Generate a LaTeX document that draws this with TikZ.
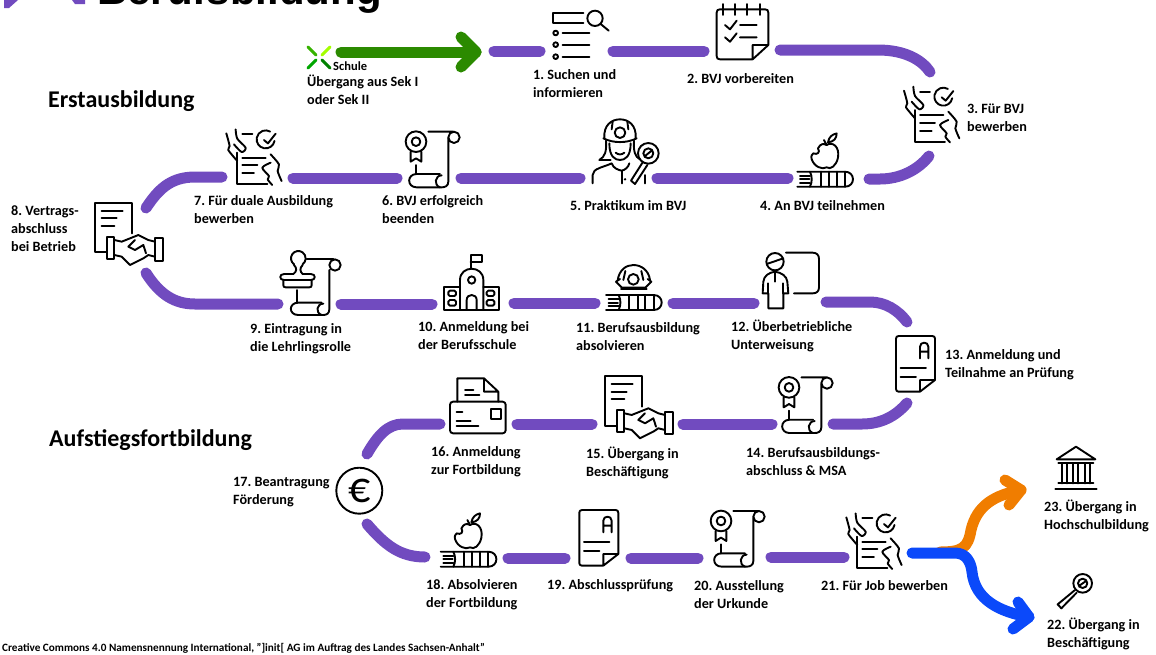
\documentclass[tikz,border=0pt]{standalone}
\usepackage{fontspec}
\setmainfont{Carlito}
\newfontfamily\titlefont{Liberation Sans}
\definecolor{wegcol}{HTML}{714BBF}
\definecolor{gruencol}{HTML}{2B8A00}
\definecolor{orangecol}{HTML}{F07D00}
\definecolor{blaucol}{HTML}{0B49FA}
\tikzset{
  ico/.style={scale=1/3,line width=1.9pt,line cap=round,line join=round},
  pics/icoapply/.style={code={\begin{scope}[ico]
    \draw (120,65) -- (150,65);
    \draw (190,80) ++(10:27) arc (10:300:27);
    \draw (185,82) -- (197,92) -- (220,63);
    \draw (105,120) -- (105,215) -- (195,215);
    \draw (120,135) -- (190,135) (120,158) -- (165,158) (120,182) -- (155,182);
    \draw plot[smooth] coordinates {(72,62) (82,100) (78,112) (105,145)};
    \draw plot[smooth] coordinates {(100,50) (105,78) (130,105) (118,118) (95,95)};
    \draw plot[smooth] coordinates {(205,125) (230,155) (226,175) (238,205)};
    \draw plot[smooth] coordinates {(205,150) (180,165) (200,190) (196,200) (210,217)};
  \end{scope}}},
  pics/icoscroll/.style={code={\begin{scope}[ico]
    \draw (48,95) circle (31) (48,95) circle (13);
    \draw (32,125) -- (32,155) -- (48,145) -- (64,155) -- (64,125);
    \draw (85,65) -- (160,65) (162,82) circle (17);
    \draw (145,85) -- (145,215) .. controls (145,228) and (135,232) .. (125,232) -- (50,232)
      .. controls (20,232) and (20,192) .. (50,192) -- (120,192);
    \draw (48,165) -- (48,192);
    \draw (125,196) .. controls (105,196) and (100,225) .. (120,232);
  \end{scope}}},
  pics/icobook/.style={code={\begin{scope}[ico]
    \draw (0,0) -- (143,0) .. controls (175,0) and (175,45) .. (143,45) -- (0,45);
    \draw (8,12) -- (38,12) (8,23) -- (36,23) (8,34) -- (38,34);
    \draw (38,0) .. controls (45,15) and (45,30) .. (38,45);
    \foreach \x in {70,95,118,143} \draw (\x,0) -- (\x,45);
  \end{scope}}},
  pics/icoapple/.style={code={\begin{scope}[ico]
    \draw (88,-80) .. controls (105,-92) and (128,-75) .. (122,-42)
      .. controls (117,-18) and (100,-5) .. (88,-13) .. controls (75,-5) and (50,-15) .. (43,-38)
      .. controls (40,-48) and (45,-52) .. (48,-55) .. controls (60,-50) and (70,-58) .. (62,-70)
      .. controls (70,-85) and (78,-85) .. (88,-80);
    \draw (88,-80) -- (80,-95);
    \draw (92,-88) .. controls (95,-105) and (105,-112) .. (118,-115)
      .. controls (118,-100) and (110,-90) .. (92,-88) -- cycle;
  \end{scope}}},
  pics/icohelmet/.style={code={\begin{scope}[ico]
    \draw (35,-45) .. controls (40,-75) and (60,-90) .. (82,-90) .. controls (105,-90) and (128,-75) .. (132,-45);
    \draw (30,-40) -- (48,-22) -- (118,-22) -- (136,-40) -- (125,-48);
    \draw (30,-40) -- (42,-48);
    \draw (82,-47) circle (16);
    \draw (58,-72) -- (52,-45) (106,-72) -- (112,-45);
    \draw (45,-17) -- (122,-17);
  \end{scope}}},
  pics/icodeal/.style={code={\begin{scope}[ico]
    \draw (78,187) -- (45,187) -- (45,38) -- (155,38) -- (155,130);
    \draw (65,62) -- (128,62) (65,85) -- (110,85) (65,107) -- (103,107);
    \draw (80,140) rectangle (103,207) (225,145) rectangle (248,212);
    \draw (103,150) -- (125,155) -- (175,135) -- (205,150) -- (225,155);
    \draw (103,195) -- (125,200) -- (150,225) -- (170,215) -- (190,205) -- (205,195) -- (225,200);
    \draw (165,150) -- (145,170) -- (165,180) -- (190,165) -- (198,190);
  \end{scope}}},
  pics/icoexam/.style={code={\begin{scope}[ico]
    \draw (72,167) -- (8,167) .. controls (3,167) and (0,164) .. (0,159) -- (0,8)
      .. controls (0,3) and (3,0) .. (8,0) -- (109,0) .. controls (114,0) and (117,3) .. (117,8)
      -- (117,132) -- (72,167) -- (72,132) -- (117,132);
    \draw (72,67) -- (72,32) .. controls (72,16) and (97,16) .. (97,32) -- (97,67) (72,47) -- (97,47);
    \draw (14,95) -- (90,95) (14,124) -- (60,124);
  \end{scope}}},
}
\begin{document}
\frenchspacing
\begin{tikzpicture}
  [x=1pt,y=-1pt,
   lbl/.style={anchor=west,align=left,inner sep=0pt,yshift=-1pt,font=\fontsize{14.2}{18}\selectfont\bfseries},
   kopf/.style={anchor=west,inner sep=0pt,yshift=-1pt,font=\fontsize{24}{26}\selectfont\bfseries},
   weg/.style={line width=11pt,line cap=round,color=wegcol},
   pfeil/.style={line width=11pt,line cap=round,line join=round},
   logo/.style={line width=3pt,line cap=round},
   icoplain/.style={line width=1.9pt,line cap=round,line join=round,scale=1/3}]
  \useasboundingbox (0,0) rectangle (1156,654);

  % titel
  \fill[wegcol] (4,0) -- (18,0) -- (9,8) -- (4,8) -- cycle;
  \fill[wegcol] (72,0) -- (85,0) -- (85,4) -- (75,4) -- cycle;
  \node[anchor=base west,inner sep=0pt,font=\fontsize{42}{42}\selectfont\titlefont\bfseries] (titel) at (97,4) {Berufsbildung};
  \node[kopf] (erst) at (48,100) {Erstausbildung};
  \node[kopf] (aufst) at (49,439) {Aufstiegsfortbildung};

  % wege
  \foreach \n/\x/\y in {s0/341/52,e0/476/52,hu/461/37,hd/461/67,
    a1/494/51,b1/540/51,a2/613/51,b2/704/51,a3/780/50,b3/930/72,
    a4/929/156,b4/869/179,a5/657/178,b5/788/178,a6/461/178,b6/580/178,
    a7/293/178,b7/397/178,a8/146/208,b8/222/177,a9/146/273,b9/278/304,
    a10/341/304,b10/432/304,a11/514/303,b11/595/303,a12/673/303,b12/754/303,
    a13/826/302,b13/907/322,a14/833/424,b14/907/403,a15/683/424,b15/772/424,
    a16/517/424,b16/592/424,a17/367/454,b17/440/424,a18/367/524,b18/425/557,
    a19/508/558,b19/565/558,a20/631/558,b20/698/558,a21/771/557,b21/844/557,
    s1/912/553,e1/1029/617,h1u/1018/602,h1d/1013/629,
    s2/940/552,e2/1021/490,h2u/1005/480,h2d/1009/505}
    \coordinate (\n) at (\x,\y);

  \foreach \from/\to in {a1/b1,a2/b2,a5/b5,a6/b6,a7/b7,a10/b10,a11/b11,a12/b12,a15/b15,a16/b16,a19/b19,a20/b20,a21/b21}
    \draw[weg] (\from) -- (\to);
  \draw[weg] (a3) -- (878,50) .. controls (905,50) and (922,60) .. (b3);
  \draw[weg] (a4) .. controls (918,170) and (900,179) .. (880,179) -- (b4);
  \draw[weg] (a8) .. controls (158,190) and (170,177) .. (195,177) -- (b8);
  \draw[weg] (a9) .. controls (160,295) and (175,304) .. (195,304) -- (b9);
  \draw[weg] (a13) -- (870,302) .. controls (885,302) and (898,310) .. (b13);
  \draw[weg] (a14) -- (862,424) .. controls (880,424) and (895,417) .. (b14);
  \draw[weg] (a17) .. controls (378,435) and (388,424) .. (403,424) -- (b17);
  \draw[weg] (a18) .. controls (385,545) and (400,557) .. (b18);

  \draw[pfeil,color=gruencol] (s0) -- (e0);
  \draw[pfeil,color=gruencol] (hu) -- (e0) -- (hd);
  \draw[pfeil,color=orangecol] (s2) .. controls (962,552) and (968,548) .. (971,530) .. controls (977,505) and (995,495) .. (e2);
  \draw[pfeil,color=orangecol] (h2u) -- (e2) -- (h2d);
  \draw[pfeil,color=blaucol] (s1) -- (955,553) .. controls (966,553) and (971,562) .. (972,572) .. controls (975,600) and (1000,612) .. (e1);
  \draw[pfeil,color=blaucol] (h1u) -- (e1) -- (h1d);

  % logo
  \draw[logo,color=green!60!lime!70!black] (308,47) -- (316,55);
  \draw[logo,color=lime!85!green] (330,47) -- (322,55);
  \draw[logo,color=green!65!black] (308,68) -- (316,60);
  \draw[logo,color=green!50!black] (330,68) -- (322,60);

  % icons
  \pic (i3) at (880,70) {icoapply};
  \pic (i7) at (202.3,112.7) {icoapply};
  \pic (i21) at (822.3,496.7) {icoapply};
  \pic (i6) at (400,110) {icoscroll};
  \pic (i14) at (773,355.7) {icoscroll};
  \pic (i20) at (705,489.3) {icoscroll};
  \pic (i4) at (797.3,171.7) {icobook};
  \pic (i4a) at (797.3,171.7) {icoapple};
  \pic (i11) at (606,295) {icobook};
  \pic (i11a) at (606,295) {icohelmet};
  \pic (i18) at (440.7,551.7) {icobook};
  \pic (i18a) at (440.7,551.7) {icoapple};
  \pic (i8) at (80,190) {icodeal};
  \pic (i15) at (590,363.3) {icodeal};
  \pic (i13) at (896,336) {icoexam};
  \pic (i19) at (579.3,510) {icoexam};

  % 1 suchen
  \begin{scope}[shift={(520,0)},icoplain]
    \draw (190,40) -- (100,40) -- (100,70) -- (190,70);
    \draw (225,55) circle (23) (242,72) -- (266,92);
    \foreach \y in {99,134,170} {
      \draw (107,\y) circle (7);
      \draw (128,\y) -- (208,\y);
    }
  \end{scope}
  % 2 vorbereiten
  \begin{scope}[shift={(520,0)},icoplain]
    \draw (698,178) -- (600,178) .. controls (593,178) and (590,175) .. (590,168) -- (590,38)
      .. controls (590,31) and (593,28) .. (600,28) -- (735,28) .. controls (742,28) and (745,31) .. (745,38)
      -- (745,135) -- (698,178) -- (698,135) -- (745,135);
    \foreach \x in {610,645,682,720} \draw (\x,12) -- (\x,45);
    \draw (615,75) -- (630,88) -- (650,62) (660,75) -- (710,75);
    \draw (615,112) -- (630,125) -- (650,100) (660,112) -- (710,112);
  \end{scope}
  % 5 praktikum
  \begin{scope}[shift={(570,110)},icoplain]
    \draw (103,85) .. controls (100,45) and (125,28) .. (150,28) .. controls (175,28) and (200,45) .. (197,85);
    \draw (100,85) .. controls (130,100) and (170,100) .. (200,85);
    \draw (150,68) circle (16) (128,35) -- (125,58) (172,35) -- (175,58);
    \draw (118,100) .. controls (118,140) and (135,150) .. (150,150) .. controls (165,150) and (182,140) .. (182,100);
    \draw (137,128) .. controls (145,135) and (155,135) .. (163,128);
    \draw (108,92) .. controls (110,125) and (105,140) .. (88,150) -- (122,150);
    \draw (192,92) .. controls (190,125) and (195,140) .. (210,148);
    \draw (68,220) -- (68,195) .. controls (68,175) and (100,172) .. (125,160) .. controls (130,175) and (145,180) .. (155,182)
      .. controls (165,180) and (175,172) .. (178,160);
    \draw (155,182) -- (155,220);
    \fill (165,208) circle (4);
    \draw (235,130) circle (31) (235,130) circle (15) (225,138) -- (245,122);
    \draw (218,157) -- (183,212) -- (195,222) -- (232,165);
    \draw (225,195) -- (225,220);
  \end{scope}
  % 9 eintragung
  \begin{scope}[shift={(80,190)},icoplain]
    \draw (655,205) ++(125:22) arc (125:415:22);
    \draw (642,225) .. controls (652,235) and (650,245) .. (640,252) -- (612,252)
      .. controls (597,252) and (597,270) .. (612,270) -- (693,270) .. controls (708,270) and (708,252) .. (693,252) -- (668,252)
      .. controls (660,245) and (658,235) .. (668,225);
    \draw (610,270) -- (610,285) .. controls (610,290) and (612,292) .. (617,292) -- (688,292)
      .. controls (693,292) and (695,290) .. (695,285) -- (695,270);
    \draw (680,207) -- (760,207) (765,225) circle (17);
    \draw (748,240) -- (748,358) .. controls (748,370) and (740,375) .. (730,375) -- (655,375)
      .. controls (625,375) and (625,338) .. (655,338) -- (725,338);
    \draw (650,300) -- (650,338);
    \draw (730,341) .. controls (710,341) and (705,368) .. (725,375);
  \end{scope}
  % 10 schule
  \begin{scope}[shift={(430,240)},icoplain]
    \draw (122,85) -- (122,45) -- (155,45) -- (155,67) -- (122,67);
    \draw (90,210) -- (90,120) .. controls (90,75) and (160,75) .. (160,120) -- (160,210);
    \draw (125,120) circle (11);
    \draw (110,210) -- (110,180) .. controls (110,160) and (140,160) .. (140,180) -- (140,210);
    \draw (90,140) -- (42,140) -- (42,210) -- (208,210) -- (208,140) -- (160,140);
    \draw[rounded corners=1.5pt] (55,152) rectangle (78,168) (55,180) rectangle (78,197);
    \draw[rounded corners=1.5pt] (170,152) rectangle (193,168) (170,180) rectangle (193,197);
  \end{scope}
  % 12 unterweisung
  \begin{scope}[shift={(430,240)},icoplain]
    \draw (1035,65) circle (26) (1010,72) -- (1060,55);
    \draw (1068,38) -- (1148,38) .. controls (1160,38) and (1167,45) .. (1167,57) -- (1167,142)
      .. controls (1167,154) and (1160,160) .. (1148,160) -- (1092,160);
    \draw (1035,95) .. controls (1015,98) and (1002,108) .. (1000,125) -- (998,160) -- (1015,160) -- (1015,205) -- (1060,205)
      -- (1060,160) -- (1075,160) -- (1072,125) .. controls (1070,108) and (1055,98) .. (1035,95);
    \draw (1035,95) -- (1035,125) (1015,130) -- (1015,160) (1060,130) -- (1060,160);
  \end{scope}
  % 16 anmeldung
  \begin{scope}[shift={(440,330)},icoplain]
    \draw[rounded corners=3pt] (30,215) rectangle (197,310);
    \draw (52,215) -- (52,145) -- (132,145) -- (175,185) -- (175,215) (132,145) -- (132,185) -- (175,185);
    \draw (75,180) -- (100,180) (75,195) -- (118,195);
    \draw (153,237) rectangle (183,267);
    \draw (50,245) -- (67,245) (50,272) -- (92,272) (50,288) -- (115,288);
  \end{scope}
  % 22 + 23
  \begin{scope}[shift={(700,440)},icoplain]
    \draw (1148,430) circle (28) (1148,430) circle (14) (1138,437) -- (1158,423);
    \draw (1125,450) -- (1073,493) -- (1084,505) -- (1130,458);
    \draw (1070,58) -- (1128,20) -- (1186,58) -- cycle;
    \draw (1075,70) -- (1180,70) (1075,130) -- (1180,130) (1066,148) -- (1190,148);
    \foreach \x in {1085,1100,1118,1135,1155,1170} \draw (\x,70) -- (\x,130);
  \end{scope}

  % texte
  \node[anchor=west,inner sep=0pt,yshift=-1pt,font=\fontsize{12.5}{14}\selectfont\bfseries] (schule) at (333,65) {Schule};
  \node[lbl] (t0) at (307,89) {Übergang aus Sek I\\oder Sek II};
  \node[lbl] (t1) at (533,83) {1. Suchen und\\informieren};
  \node[lbl] (t2) at (687,78) {2. BVJ vorbereiten};
  \node[lbl] (t3) at (967,117) {3. Für BVJ\\bewerben};
  \node[lbl] (t4) at (760,205) {4. An BVJ teilnehmen};
  \node[lbl] (t5) at (570,205) {5. Praktikum im BVJ};
  \node[lbl] (t6) at (382,209) {6. BVJ erfolgreich\\beenden};
  \node[lbl] (t7) at (194,209) {7. Für duale Ausbildung\\bewerben};
  \node[lbl] (t8) at (11,228) {8. Vertrags-\\abschluss\\bei Betrieb};
  \node[lbl] (t9) at (250,338) {9. Eintragung in\\die Lehrlingsrolle};
  \node[lbl] (t10) at (418,335) {10. Anmeldung bei\\der Berufsschule};
  \node[lbl] (t11) at (576,336) {11. Berufsausbildung\\absolvieren};
  \node[lbl] (t12) at (731,335) {12. Überbetriebliche\\Unterweisung};
  \node[lbl] (t13) at (945,364) {13. Anmeldung und\\Teilnahme an Prüfung};
  \node[lbl] (t14) at (746,461) {14. Berufsausbildungs-\\abschluss \& MSA};
  \node[lbl] (t15) at (586,462) {15. Übergang in\\Beschäftigung};
  \node[lbl] (t16) at (431,461) {16. Anmeldung\\zur Fortbildung};
  \node[lbl] (t17) at (233,491) {17. Beantragung\\Förderung};
  \node[lbl] (t18) at (426,594) {18. Absolvieren\\der Fortbildung};
  \node[lbl] (t19) at (547,585) {19. Abschlussprüfung};
  \node[lbl] (t20) at (694,594) {20. Ausstellung\\der Urkunde};
  \node[lbl] (t21) at (821,585) {21. Für Job bewerben};
  \node[lbl] (t22) at (1047,633) {22. Übergang in\\Beschäftigung};
  \node[lbl] (t23) at (1044,515) {23. Übergang in\\Hochschulbildung};
  \node[draw,circle,inner sep=0pt,minimum size=46pt,line width=1.9pt,font=\fontsize{44}{44}\selectfont] (n17) at (359.3,490.7) {€};
  \node[anchor=west,inner sep=0pt,font=\fontsize{11.2}{12}\selectfont\bfseries] (quelle) at (2,648) {Creative Commons 4.0 Namensnennung International, "]init[ AG im Auftrag des Landes Sachsen-Anhalt"};
\end{tikzpicture}
\end{document}
